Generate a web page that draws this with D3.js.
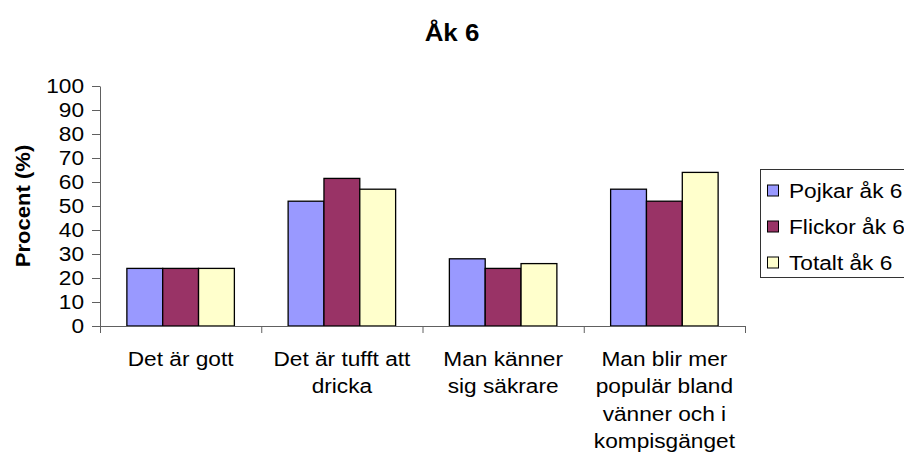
<!DOCTYPE html>
<html>
<head>
<meta charset="utf-8">
<script src="https://cdn.jsdelivr.net/npm/d3@7"></script>
<style>
  html, body { margin: 0; padding: 0; background: #fff; }
  svg { display: block; }
  text { font-family: "Liberation Sans", Arial, sans-serif; fill: #000; }
</style>
</head>
<body>
<svg id="chart" width="904" height="459"></svg>
<script>
// ---- data ----
const title = "Åk 6";
const yAxisLabel = "Procent (%)";
const categories = ["Det är gott", "Det är tufft att dricka", "Man känner sig säkrare", "Man blir mer populär bland vänner och i kompisgänget"];
const categoryLines = [
  ["Det är gott"],
  ["Det är tufft att", "dricka"],
  ["Man känner", "sig säkrare"],
  ["Man blir mer", "populär bland", "vänner och i", "kompisgänget"]
];
const seriesNames = ["Pojkar åk 6", "Flickor åk 6", "Totalt åk 6"];
const pojkar = [24, 52, 28, 57];
const flickor = [24, 61.5, 24, 52];
const totalt = [24, 57, 26, 64];
const yTicks = [0, 10, 20, 30, 40, 50, 60, 70, 80, 90, 100];
const colors = ["#9999FF", "#993366", "#FFFFCC"];

const seriesValues = [pojkar, flickor, totalt];
const SX = 1.08; // horizontal stretch of the reference text

// ---- layout ----
const svg = d3.select("#chart");
const plot = { left: 100, right: 745, top: 86, bottom: 326 };

const x = d3.scaleBand().domain(categories).range([plot.left, plot.right]).paddingInner(0).paddingOuter(0);
const xs = d3.scaleBand().domain(seriesNames).range([0, x.bandwidth()]).paddingInner(0).paddingOuter(0.75);
const y = d3.scaleLinear().domain([0, 100]).range([plot.bottom, plot.top]);

// title
svg.append("g").attr("transform", `translate(452,41) scale(${SX},1)`)
  .append("text")
  .attr("text-anchor", "middle")
  .style("font-size", "24px").style("font-weight", "bold")
  .text(title);

// y axis label
svg.append("g").attr("transform", `translate(23,${(plot.top + plot.bottom) / 2}) rotate(-90) scale(1.05,1)`)
  .append("text")
  .attr("text-anchor", "middle")
  .attr("dominant-baseline", "central")
  .style("font-size", "21px").style("font-weight", "bold")
  .text(yAxisLabel);

// bars
const data = [];
categories.forEach((c, i) => seriesNames.forEach((s, j) => data.push({ c, s, v: seriesValues[j][i], j })));

svg.append("g").selectAll("rect").data(data).join("rect")
  .attr("x", d => x(d.c) + xs(d.s))
  .attr("y", d => y(d.v))
  .attr("width", xs.bandwidth())
  .attr("height", d => y(0) - y(d.v))
  .attr("fill", d => colors[d.j])
  .attr("stroke", "#000")
  .attr("stroke-width", 1.3);

// y axis
const yAxis = svg.append("g")
  .attr("transform", `translate(${plot.left},0)`)
  .call(d3.axisLeft(y).tickValues(yTicks).tickSize(8).tickPadding(8).tickSizeOuter(0));
yAxis.select(".domain").attr("stroke", "#606060");
yAxis.selectAll(".tick line").attr("stroke", "#606060");
yAxis.selectAll("text")
  .style("font-size", "21px")
  .style("font-family", "'Liberation Sans', Arial, sans-serif")
  .attr("fill", "#000")
  .attr("x", -16 / SX)
  .attr("transform", `scale(${SX},1)`);

// x axis (ticks at category boundaries)
const xb = d3.scaleLinear().domain([0, categories.length]).range([plot.left, plot.right]);
const xAxis = svg.append("g")
  .attr("transform", `translate(0,${plot.bottom})`)
  .call(d3.axisBottom(xb).tickValues(d3.range(0, categories.length + 1)).tickSize(7).tickSizeOuter(0).tickFormat(""));
xAxis.select(".domain").attr("stroke", "#606060");
xAxis.selectAll(".tick line").attr("stroke", "#606060");

// category labels
categories.forEach((c, i) => {
  const t = svg.append("g")
    .attr("transform", `translate(${x(c) + x.bandwidth() / 2},366) scale(${SX},1)`)
    .append("text")
    .attr("text-anchor", "middle")
    .style("font-size", "21px");
  categoryLines[i].forEach((ln, k) => {
    t.append("tspan").attr("x", 0).attr("dy", k === 0 ? 0 : 27.5).text(ln);
  });
});

// legend
const lg = svg.append("g");
lg.append("rect")
  .attr("x", 760.5).attr("y", 169.5).attr("width", 160).attr("height", 108)
  .attr("fill", "#fff").attr("stroke", "#333").attr("stroke-width", 1);
const rowY = d3.scalePoint().domain(seriesNames).range([191, 263]);
seriesNames.forEach((s, j) => {
  lg.append("rect")
    .attr("x", 767.5).attr("y", rowY(s) - 6).attr("width", 11).attr("height", 11)
    .attr("fill", colors[j]).attr("stroke", "#000").attr("stroke-width", 1);
  lg.append("g").attr("transform", `translate(789,${rowY(s) + 7}) scale(${SX},1)`)
    .append("text")
    .style("font-size", "21px")
    .text(s);
});
</script>
</body>
</html>
